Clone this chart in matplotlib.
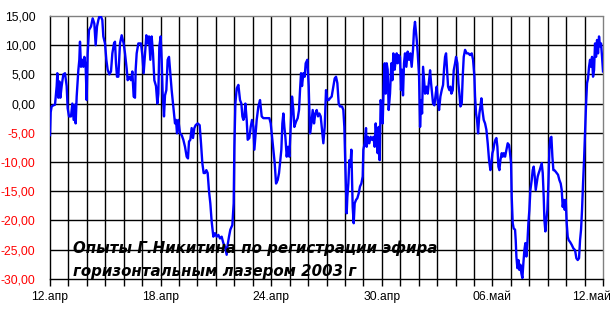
import numpy as np
import pandas as pd
import matplotlib
matplotlib.use('Agg')
import matplotlib.pyplot as plt
import matplotlib.transforms as mtransforms

plt.rcParams['font.family'] = ['Liberation Sans', 'DejaVu Sans']

# measurement series, days counted from 12.04.2003 00:00
days_a = [0.00, 0.036, 0.090, 0.181, 0.271, 0.362, 0.398, 0.452, 0.506, 0.561, 0.633, 0.723,
          0.814, 0.904, 0.958, 1.031, 1.139, 1.212, 1.284, 1.356, 1.392, 1.447, 1.537, 1.591,
          1.627, 1.682, 1.754, 1.808, 1.863, 1.935, 1.989, 2.043, 2.116, 2.224, 2.315, 2.405,
          2.477, 2.550, 2.622, 2.676, 2.767, 2.839, 2.893, 2.984, 3.056, 3.128, 3.219, 3.309,
          3.382, 3.472, 3.526, 3.580, 3.635, 3.707, 3.797, 3.888, 3.996, 4.069, 4.159, 4.213,
          4.304, 4.394, 4.467, 4.539, 4.611, 4.647, 4.702, 4.792, 4.937, 5.009, 5.081, 5.154,
          5.226, 5.298, 5.371, 5.443, 5.515, 5.588, 5.660, 5.750, 5.823, 5.877, 5.931, 6.004,
          6.058, 6.112, 6.184, 6.239, 6.311, 6.383, 6.456, 6.528, 6.600, 6.691, 6.781, 6.835,
          6.890, 6.962, 7.052, 7.143, 7.233, 7.324, 7.414, 7.486, 7.541, 7.613, 7.685, 7.758,
          7.830, 7.902, 8.011, 8.119, 8.192, 8.264, 8.336, 8.409, 8.481, 8.553, 8.626, 8.698,
          8.770, 8.861, 8.951, 9.042, 9.132, 9.222, 9.313, 9.403, 9.494, 9.584, 9.638, 9.711,
          9.783, 9.892, 9.964]
vals_a = [-5.4, -1.5, -0.5, -0.3, -0.2, 3.0, 5.2, 1.0, 3.8, 1.0, 3.0, 5.0,
          5.2, 3.0, -0.8, -2.2, -2.2, 0.0, -2.8, -0.2, -3.4, 1.2, 5.7, 7.5,
          10.6, 6.3, 7.5, 6.3, 8.0, 6.3, 0.6, 8.6, 12.6, 13.2, 14.6, 13.7,
          10.0, 13.2, 14.3, 14.9, 14.9, 14.3, 11.5, 10.3, 7.5, 5.8, 5.0, 5.5,
          8.6, 10.3, 10.6, 6.9, 4.6, 4.6, 10.3, 11.7, 10.3, 8.6, 6.0, 4.0,
          4.6, 4.0, 5.5, 1.2, 1.0, 5.8, 8.6, 10.3, 10.3, 8.3, 5.2, 8.6,
          11.7, 10.3, 11.5, 7.5, 11.5, 8.6, 4.0, 3.0, 0.0, 1.7, 9.8, 11.5,
          7.5, 1.7, -2.2, 1.4, 2.3, 7.5, 8.0, 5.2, 2.3, -0.5, -3.4, -2.8,
          -5.1, -2.8, -5.1, -5.4, -6.2, -7.4, -9.1, -9.4, -6.5, -6.2, -4.2, -5.9,
          -4.2, -3.7, -3.4, -3.7, -6.8, -10.2, -11.9, -11.9, -11.4, -11.9, -15.0, -17.1,
          -20.2, -22.8, -22.2, -22.8, -22.5, -23.1, -22.8, -23.9, -24.5, -25.9, -24.2, -22.8,
          -21.6, -20.8, -17.1]

days_b = [10.002, 10.056, 10.129, 10.219, 10.309, 10.382, 10.436, 10.490, 10.544, 10.599,
          10.671, 10.725, 10.816, 10.888, 10.960, 11.033, 11.087, 11.141, 11.213, 11.304,
          11.394, 11.485, 11.575, 11.756, 11.900, 11.973, 12.045, 12.117, 12.190, 12.262,
          12.352, 12.425, 12.479, 12.551, 12.606, 12.660, 12.714, 12.768, 12.841, 12.913,
          12.985, 13.058, 13.130, 13.202, 13.256, 13.347, 13.437, 13.509, 13.564, 13.618,
          13.672, 13.745, 13.817, 13.871, 13.961, 14.034, 14.106, 14.179, 14.251, 14.323,
          14.395, 14.468, 14.540, 14.612, 14.685, 14.757, 14.829, 14.902, 14.974, 15.046,
          15.119, 15.191, 15.281, 15.372, 15.444, 15.516, 15.589, 15.661, 15.733, 15.842,
          15.914, 15.968, 16.023, 16.095, 16.131, 16.185, 16.240, 16.294, 16.348, 16.384,
          16.420, 16.475, 16.529, 16.601, 16.674, 16.746, 16.818, 16.891, 16.963, 16.999,
          17.071, 17.144, 17.180, 17.252, 17.324, 17.397, 17.469, 17.541, 17.614, 17.668,
          17.722, 17.776, 17.831, 17.885, 17.939, 17.993, 18.048, 18.102, 18.156, 18.210,
          18.265, 18.319, 18.373, 18.445, 18.518, 18.572, 18.626, 18.699, 18.753, 18.807,
          18.861, 18.915, 18.988, 19.042, 19.096, 19.150, 19.205, 19.259, 19.331, 19.403,
          19.476, 19.548, 19.620, 19.693, 19.747, 19.801]
vals_b = [-7.4, 0.0, 2.6, 3.2, 0.6, 0.0, -2.2, -2.8, -2.2, 0.0,
          -2.8, -6.2, -5.9, -4.0, -2.8, -4.0, -7.9, -5.7, -2.8, -0.5,
          0.6, -2.2, -2.5, -2.5, -2.5, -3.4, -5.7, -7.9, -10.2, -13.7,
          -13.1, -11.9, -10.2, -7.9, -3.4, -1.7, -4.0, -5.7, -9.1, -7.4,
          -9.1, -4.0, 1.2, -1.1, -4.0, -3.1, -2.5, -1.1, 2.3, 5.2,
          3.0, 5.2, 4.6, 6.9, 7.5, 3.0, -5.1, -3.4, -1.1, -3.4,
          -1.7, -1.1, -2.2, -1.7, -2.2, -4.5, -6.8, -4.0, 2.3, 0.6,
          0.6, 0.9, 1.2, 2.9, 4.3, 4.6, 3.5, 0.0, -0.5, -0.5,
          -1.1, -4.0, -10.8, -18.8, -16.0, -13.7, -9.7, -10.8, -7.9, -12.5,
          -17.7, -20.5, -17.1, -16.5, -16.2, -15.4, -14.2, -13.7, -12.5, -7.9,
          -6.8, -4.2, -7.4, -5.7, -6.8, -5.7, -6.2, -5.7, -7.4, -3.4,
          -5.7, -8.5, -4.0, -9.7, 0.6, -1.1, -3.4, 2.9, 6.9, 1.7,
          6.9, 5.8, -1.1, 1.7, 6.9, 4.0, 8.6, 5.8, 7.5, 8.6,
          6.9, 8.3, 8.0, 2.3, 5.8, 1.4, 6.9, 8.6, 6.3, 8.9,
          7.5, 8.6, 6.3, 9.2, 12.6, 14.0]

days_c = [19.895, 19.950, 20.022, 20.076, 20.130, 20.185, 20.239, 20.293, 20.347, 20.420,
          20.492, 20.564, 20.619, 20.673, 20.727, 20.781, 20.854, 20.926, 20.980, 21.034,
          21.107, 21.179, 21.251, 21.324, 21.378, 21.432, 21.486, 21.541, 21.595, 21.667,
          21.721, 21.776, 21.848, 21.902, 21.975, 22.029, 22.101, 22.155, 22.210, 22.264,
          22.336, 22.390, 22.445, 22.517, 22.607, 22.698, 22.788, 22.879, 22.951, 23.023,
          23.059, 23.114, 23.168, 23.222, 23.294, 23.349, 23.403, 23.457, 23.529, 23.602,
          23.674, 23.746, 23.819, 23.891, 23.945, 23.999, 24.054, 24.108, 24.162, 24.216,
          24.271, 24.325, 24.379, 24.433, 24.506, 24.560, 24.614, 24.687, 24.759, 24.831,
          24.904, 24.958, 25.012, 25.048, 25.102, 25.157, 25.229, 25.265, 25.301, 25.356,
          25.410, 25.464, 25.518, 25.573, 25.627, 25.681, 25.735, 25.789, 25.844, 25.898,
          25.952, 26.006, 26.061, 26.133, 26.187, 26.241, 26.296, 26.350, 26.404, 26.458,
          26.513, 26.567, 26.621, 26.675, 26.730, 26.784, 26.820, 26.874, 26.928, 26.983,
          27.037, 27.091, 27.145, 27.200, 27.254, 27.308, 27.362, 27.417, 27.489, 27.561,
          27.634, 27.706, 27.760, 27.814, 27.869, 27.923, 27.977, 28.031, 28.086, 28.140,
          28.212, 28.303, 28.393, 28.483, 28.556, 28.628, 28.700, 28.755, 28.809, 28.863,
          28.917, 28.972, 29.026, 29.080, 29.134, 29.189, 29.243, 29.297, 29.351, 29.405,
          29.460, 29.514, 29.568, 29.622, 29.677, 29.731, 29.785, 29.839, 29.894, 29.948,
          30.000]
vals_c = [10.9, 8.6, 4.6, -4.0, 0.6, -1.7, 6.3, 4.0, 1.7, 2.9,
          1.7, 4.0, 5.7, 3.5, 1.7, 0.0, -0.3, 1.7, 2.9, 0.6,
          -1.1, 1.2, 2.3, 3.2, 6.0, 8.0, 8.6, 5.8, 2.9, 2.3,
          2.9, 1.7, 2.3, 5.7, 6.9, 8.0, 6.9, 3.5, 1.7, -0.5,
          0.0, 4.6, 8.0, 9.2, 8.6, 8.6, 8.3, 8.6, 7.5, 4.6,
          1.2, -1.7, -2.8, -5.1, -1.7, -0.5, 0.9, -1.1, -2.8, -3.4,
          -4.5, -6.8, -9.7, -11.4, -10.2, -8.5, -7.9, -6.8, -6.2, -5.9,
          -7.4, -10.8, -11.4, -9.7, -8.5, -9.1, -8.5, -9.1, -7.9, -6.8,
          -7.1, -8.5, -10.2, -16.0, -20.5, -21.4, -21.6, -23.4, -26.2, -28.2,
          -26.8, -28.5, -27.6, -29.1, -29.9, -27.3, -25.1, -23.9, -26.2, -23.9,
          -20.5, -18.2, -14.8, -13.1, -11.4, -10.8, -12.5, -14.8, -13.7, -12.5,
          -11.9, -11.4, -10.8, -10.2, -11.9, -16.0, -19.9, -21.9, -19.9, -18.2,
          -13.7, -7.9, -5.9, -5.7, -9.1, -11.4, -11.4, -11.6, -11.9, -12.2,
          -13.1, -13.7, -14.8, -17.7, -16.5, -18.2, -16.5, -20.5, -22.8, -23.4,
          -23.7, -24.2, -24.8, -25.1, -26.5, -26.8, -26.5, -23.4, -21.6, -18.2,
          -13.7, -9.7, -5.1, -0.2, 3.5, 4.3, 6.3, 7.5, 6.3, 8.0,
          4.6, 5.7, 10.3, 8.0, 10.9, 8.6, 11.5, 9.8, 10.3, 8.0,
          5.5]

start = pd.Timestamp('2003-04-12')
n_days = 30
tick_labels = {0: '12.апр', 6: '18.апр', 12: '24.апр', 18: '30.апр', 24: '06.май', 30: '12.май'}
y_ticks = list(range(-30, 20, 5))
note = ['Опыты Г.Никитина по регистрации эфира', 'горизонтальным лазером 2003 г']

days = np.array(days_a + days_b + days_c)
vals = np.array(vals_a + vals_b + vals_c)
times = start + pd.to_timedelta(days, unit='D')

fig = plt.figure(figsize=(6.12, 3.17), dpi=100)
ax = fig.add_axes([50/612, 1-278.7/317, 553/612, 262.7/317])

ax.plot(times, vals, color='#0000FF', lw=1.7, zorder=3)

ax.set_xlim(start, start + pd.Timedelta(days=n_days))
ax.set_ylim(-30, 15)

xt = [start + pd.Timedelta(days=i) for i in range(n_days + 1)]
ax.set_xticks(xt)
ax.set_xticklabels([tick_labels.get(i, '') for i in range(n_days + 1)], fontsize=8.7)
ax.tick_params(axis='x', direction='out', length=5, width=1, color='black', pad=4)

# last date label sits flush with the right edge of the picture
last = ax.get_xticklabels()[-1]
last.set_horizontalalignment('right')
last.set_transform(last.get_transform() +
                   mtransforms.ScaledTranslation(8/100, 0, fig.dpi_scale_trans))

ax.set_yticks(y_ticks)
ax.set_yticklabels([('%.2f' % v).replace('.', ',') for v in y_ticks], fontsize=8.7)
ax.tick_params(axis='y', length=0, pad=10.5)
for lab, v in zip(ax.get_yticklabels(), y_ticks):
    lab.set_color('red' if v < 0 else 'black')

ax.grid(True, color='black', lw=1)
ax.get_ygridlines()[-1].set_visible(False)
ax.get_ygridlines()[0].set_visible(False)
ax.get_xgridlines()[-1].set_visible(False)
ax.get_xgridlines()[0].set_visible(False)

for s in ['left', 'bottom']:
    ax.spines[s].set_color('black')
    ax.spines[s].set_linewidth(1)
for s in ['top', 'right']:
    ax.spines[s].set_color('#808080')
    ax.spines[s].set_linestyle((0, (1, 1)))
    ax.spines[s].set_linewidth(1)

fig.text(73/612, 1-253/317, note[0], fontsize=10.8, fontweight='bold', style='italic',
         family='DejaVu Sans', color='black', va='baseline', zorder=5)
fig.text(73/612, 1-276/317, note[1], fontsize=10.8, fontweight='bold', style='italic',
         family='DejaVu Sans', color='black', va='baseline', zorder=5)

fig.savefig('out.png', dpi=100)
